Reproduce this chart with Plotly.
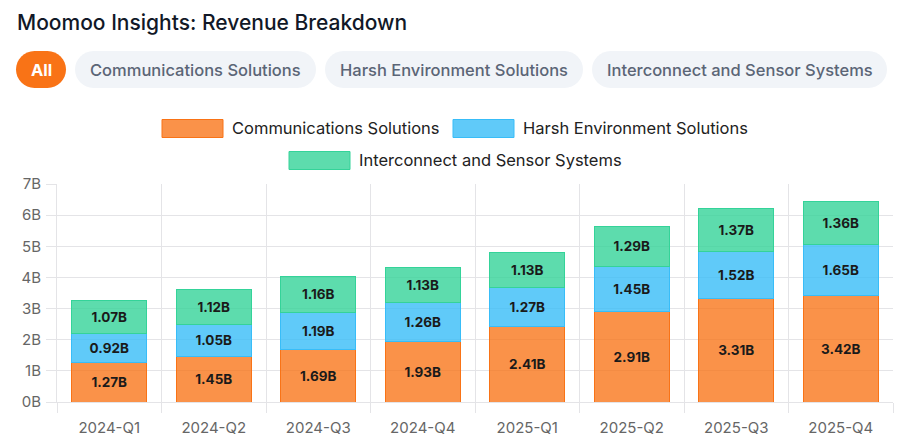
import plotly.graph_objects as go

quarters = ["2024-Q1", "2024-Q2", "2024-Q3", "2024-Q4", "2025-Q1", "2025-Q2", "2025-Q3", "2025-Q4"]
comm = [1.27, 1.45, 1.69, 1.93, 2.41, 2.91, 3.31, 3.42]
harsh = [0.92, 1.05, 1.19, 1.26, 1.27, 1.45, 1.52, 1.65]
inter = [1.07, 1.12, 1.16, 1.13, 1.13, 1.29, 1.37, 1.36]
series_names = ["Communications Solutions", "Harsh Environment Solutions", "Interconnect and Sensor Systems"]
y_ticks = [0, 1, 2, 3, 4, 5, 6, 7]
y_tick_labels = ["0B", "1B", "2B", "3B", "4B", "5B", "6B", "7B"]

W, H = 908, 444
L, R, T, B = 57, 15, 184, 42
PW, PH = W - L - R, H - T - B

def px(x):
    return (x - L) / PW

def py(y):
    return (H - B - y) / PH

FONT = "Inter, Roboto, sans-serif"
fills = ["rgba(249,115,22,0.78)", "rgba(56,189,248,0.8)", "rgba(52,211,153,0.8)"]
lines = ["rgb(249,115,22)", "rgb(56,189,248)", "rgb(52,211,153)"]

fig = go.Figure()
for name, vals, f, l in zip(series_names, [comm, harsh, inter], fills, lines):
    fig.add_trace(go.Bar(
        x=quarters, y=vals, name=name,
        marker=dict(color=f, line=dict(color=l, width=1)),
        texttemplate="<b>%{y:.2f}B</b>", textposition="inside",
        insidetextanchor="middle", textangle=0,
        textfont=dict(family=FONT, size=13.5, color="#1a1a1a"),
        constraintext="none", showlegend=False,
    ))

grid = "rgb(228,228,231)"
fig.update_layout(
    width=W, height=H, barmode="stack", bargap=0.28,
    margin=dict(l=L, r=R, t=T, b=B, autoexpand=False),
    paper_bgcolor="white", plot_bgcolor="white",
    font=dict(family=FONT),
    xaxis=dict(
        tickson="boundaries", showgrid=True, gridcolor=grid, gridwidth=1,
        ticks="outside", ticklen=10, tickcolor=grid,
        showline=True, linecolor=grid, linewidth=1, mirror=False,
        tickfont=dict(family=FONT, size=15, color="#666666"),
        ticklabelstandoff=12,
    ),
    yaxis=dict(
        range=[0, 7], tickvals=y_ticks, ticktext=y_tick_labels,
        showgrid=True, gridcolor=grid, gridwidth=1,
        ticks="outside", ticklen=10, tickcolor=grid,
        showline=True, linecolor=grid, linewidth=1,
        zeroline=False,
        tickfont=dict(family=FONT, size=15, color="#666666"),
        ticklabelstandoff=2,
    ),
)

shapes = []
annotations = []

# Title
annotations.append(dict(
    text="Moomoo Insights: Revenue Breakdown", xref="paper", yref="paper",
    x=px(15), y=py(22), xanchor="left", yanchor="middle", showarrow=False,
    font=dict(family=FONT, size=21, color="#111827", weight=500),
))

# Pill buttons
def pill(x0, x1, y0, y1, color):
    r = (y1 - y0) / 2
    k = 0.5523 * r
    pts = [
        ("M", [(x0 + r, y0)]),
        ("L", [(x1 - r, y0)]),
        ("C", [(x1 - r + k, y0), (x1, y1 - r - k), (x1, y0 + r)]),
        ("C", [(x1, y0 + r + k), (x1 - r + k, y1), (x1 - r, y1)]),
        ("L", [(x0 + r, y1)]),
        ("C", [(x0 + r - k, y1), (x0, y0 + r + k), (x0, y0 + r)]),
        ("C", [(x0, y0 + r - k), (x0 + r - k, y0), (x0 + r, y0)]),
    ]
    d = ""
    for cmd, ps in pts:
        d += cmd + " " + " ".join(f"{px(a):.5f},{py(b):.5f}" for a, b in ps) + " "
    d += "Z"
    return dict(type="path", path=d, xref="paper", yref="paper",
                fillcolor=color, line=dict(width=0), layer="above")

buttons = [("All", 16, 66), (series_names[0], 75, 316), (series_names[1], 325, 583), (series_names[2], 592, 887)]
for i, (label, x0, x1) in enumerate(buttons):
    active = i == 0
    shapes.append(pill(x0, x1, 51, 88, "#f97316" if active else "#f1f4f8"))
    annotations.append(dict(
        text=label, xref="paper", yref="paper", x=px((x0 + x1) / 2), y=py(69.5),
        xanchor="center", yanchor="middle", showarrow=False,
        font=dict(family=FONT, size=16.5, color="white" if active else "#5b6576",
                  weight=700 if active else 500),
    ))

# Legend (manual)
legend_items = [(0, 162, 128.5), (1, 453, 128.5), (2, 289, 160.5)]
for idx, bx, cy in legend_items:
    shapes.append(dict(type="rect", xref="paper", yref="paper",
                       x0=px(bx), x1=px(bx + 61), y0=py(cy - 9), y1=py(cy + 9),
                       fillcolor=fills[idx], line=dict(color=lines[idx], width=1)))
    annotations.append(dict(
        text=series_names[idx], xref="paper", yref="paper", x=px(bx + 68), y=py(cy),
        xanchor="left", yanchor="middle", showarrow=False,
        font=dict(family=FONT, size=16.5, color="#222222"),
    ))

fig.update_layout(shapes=shapes, annotations=annotations)
fig.write_html("out.html")
